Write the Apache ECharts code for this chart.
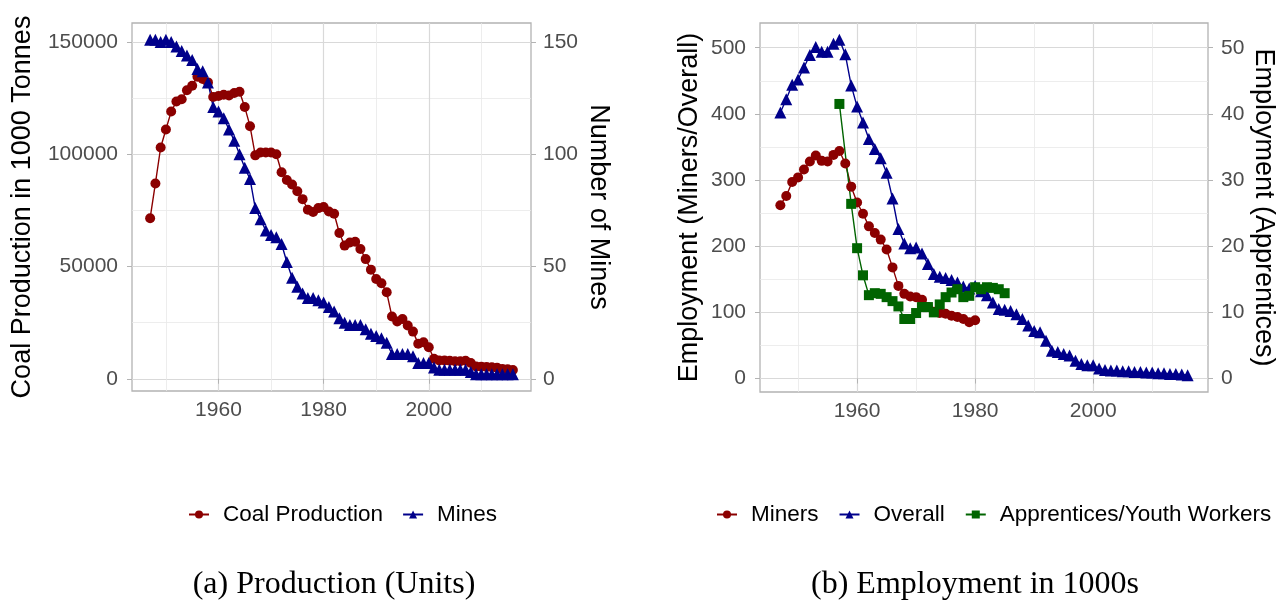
<!DOCTYPE html>
<html>
<head>
<meta charset="utf-8">
<script src="https://cdn.jsdelivr.net/npm/echarts@6/dist/echarts.min.js"></script>
<style>
  html, body { margin: 0; padding: 0; background: #ffffff; }
  #chart { width: 1283px; height: 602px; }
</style>
</head>
<body>
<div id="chart"></div>
<script>
function range(a, b) { const out = []; for (let y = a; y <= b; y++) out.push(y); return out; }

// ---- (a) Production ----
const productionYears = range(1947, 2016);
const coalProduction = [
  71500, 87000, 103000, 111000, 119000, 123500, 124500, 128500, 130500, 134500,
  133500, 132000, 125500, 125900, 126500, 126200, 127300, 127800, 121000, 112500,
  99500, 100800, 100800, 100800, 100000, 92000, 88500, 86500, 83500, 80000,
  75300, 74300, 76000, 76500, 74500, 73500, 64900, 59300, 60700, 61000,
  57800, 53300, 48600, 44400, 42500, 38500, 27700, 25500, 26600, 23700,
  21000, 15600, 16300, 14000, 8900, 8100, 8100, 8000, 7800, 7800,
  8000, 7000, 5500, 5400, 5200, 5100, 4900, 4400, 4200, 3900
];
const mines = [
  151, 151, 150, 151, 150, 148, 146, 144, 142, 138,
  137, 132, 121, 119, 116, 111, 106, 100, 94, 89,
  76, 71, 66, 64, 63, 60, 52, 45, 41, 38,
  36, 36, 35, 34, 32, 30, 27, 25, 24, 24,
  24, 22, 20, 19, 18, 16, 11, 11, 11, 11,
  10, 7, 7, 7, 5, 4, 4, 4, 4, 4,
  4, 3, 2, 2, 2, 2, 2, 2, 2, 2
];

// ---- (b) Employment in 1000s ----
const minersYears = range(1947, 1980);
const miners = [
  262, 276, 297, 304, 316, 328, 337, 329, 328, 338,
  344, 325, 290, 266, 249, 230, 220, 210, 195, 168,
  140, 128, 124, 123, 119, 108, 101, 99, 98, 95,
  93, 90, 85, 88
];
const overallYears = range(1947, 2016);
const overall = [
  402, 422, 444, 452, 470, 489, 501, 494, 494, 506,
  512, 490, 443, 411, 387, 362, 347, 333, 311, 272,
  226, 204, 197, 198, 189, 173, 158, 154, 152, 149,
  145, 139, 136, 140, 132, 126, 115, 105, 104, 102,
  97, 90, 80, 72, 70, 57, 42, 40, 37, 35,
  27, 22, 20, 20, 15, 13, 12, 12, 11, 11,
  10, 10, 9, 9, 8, 8, 7, 7, 6, 5
];
const apprenticeYears = [1957, 1959, 1960, 1961, 1962, 1963, 1964, 1965, 1966, 1967,
  1968, 1969, 1970, 1971, 1972, 1973, 1974, 1975, 1976, 1977,
  1978, 1979, 1980, 1981, 1982, 1983, 1984, 1985];
const apprentices = [41.5, 26.4, 19.7, 15.6, 12.6, 12.9, 12.8, 12.3, 11.7, 10.9,
  9.0, 9.0, 9.9, 10.8, 10.8, 10.0, 11.2, 12.3, 13.0, 13.5,
  12.3, 12.5, 13.8, 13.5, 13.8, 13.7, 13.5, 12.9];

// ---- tick positions ----
const yearMajorTicks = [1960, 1980, 2000];
const yearMinorTicks = [1950, 1970, 1990, 2010];
const productionMajorTicks = [0, 50000, 100000, 150000];
const productionMinorTicks = [25000, 75000, 125000];
const mineTicks = [0, 50, 100, 150];
const employmentMajorTicks = [0, 100, 200, 300, 400, 500];
const employmentMinorTicks = [50, 150, 250, 350, 450];
const apprenticeTicks = [0, 10, 20, 30, 40, 50];

const MINE_SCALE = 1000;      // secondary axis: mines = production / 1000
const APPRENTICE_SCALE = 10;  // secondary axis: apprentices = employment / 10

const SANS = 'Liberation Sans, Arial, sans-serif';
const SERIF = 'Liberation Serif, Times New Roman, serif';
const TICK_GREY = '#4d4d4d';
const BORDER_GREY = '#b3b3b3';
const GRID_MAJOR = '#d9d9d9';
const GRID_MINOR = '#e9e9e9';
const TICK_FONT = 21;

function pairs(xs, ys) { return xs.map((x, i) => [x, ys[i]]); }
function padded(values) {
  const lo = Math.min(...values), hi = Math.max(...values);
  const p = (hi - lo) * 0.05;
  return [lo - p, hi + p];
}
const plain = v => String(v);

const yearExt = padded(productionYears.concat(overallYears, minersYears, apprenticeYears));
const prodExt = padded(coalProduction.concat(mines.map(m => m * MINE_SCALE)));
const empExt = padded(miners.concat(overall, apprentices.map(a => a * APPRENTICE_SCALE)));

function majorX(gridIndex) {
  return {
    type: 'value', gridIndex, min: yearExt[0], max: yearExt[1], position: 'bottom',
    axisLine: { show: false },
    axisTick: { show: true, customValues: yearMajorTicks, length: 5, lineStyle: { color: BORDER_GREY, width: 1 } },
    axisLabel: { customValues: yearMajorTicks, formatter: plain, color: TICK_GREY, fontSize: TICK_FONT, fontFamily: SANS, margin: 9 },
    splitLine: { show: true, lineStyle: { color: GRID_MAJOR, width: 1.2 } }
  };
}
function minorX(gridIndex) {
  return {
    type: 'value', gridIndex, min: yearExt[0], max: yearExt[1], position: 'top',
    axisLine: { show: false },
    axisTick: { show: false, customValues: yearMinorTicks },
    axisLabel: { show: false, customValues: yearMinorTicks },
    splitLine: { show: true, lineStyle: { color: GRID_MINOR, width: 0.8 } }
  };
}
function valueY(gridIndex, ext, ticks, position, split, name, nameGap, nameRotate, margin) {
  return {
    type: 'value', gridIndex, min: ext[0], max: ext[1], position,
    name, nameLocation: 'middle', nameGap, nameRotate,
    nameTextStyle: { fontSize: 27, fontFamily: SANS, color: '#000' },
    axisLine: { show: false },
    axisTick: { show: true, customValues: ticks, length: 5, lineStyle: { color: BORDER_GREY, width: 1 } },
    axisLabel: { customValues: ticks, formatter: plain, color: TICK_GREY, fontSize: TICK_FONT, fontFamily: SANS, margin },
    splitLine: { show: split, lineStyle: { color: GRID_MAJOR, width: 1.2 } }
  };
}
function minorY(gridIndex, ext, ticks) {
  return {
    type: 'value', gridIndex, min: ext[0], max: ext[1], position: 'left',
    axisLine: { show: false },
    axisTick: { show: false, customValues: ticks },
    axisLabel: { show: false, customValues: ticks },
    splitLine: { show: true, lineStyle: { color: GRID_MINOR, width: 0.8 } }
  };
}

function lineSeries(name, xIdx, yIdx, data, color, symbol, size) {
  return {
    type: 'line', name, xAxisIndex: xIdx, yAxisIndex: yIdx, data,
    symbol, symbolSize: size, showSymbol: true,
    itemStyle: { color }, lineStyle: { color, width: 1.4 },
    emphasis: { disabled: true }, animation: false
  };
}

const RED = '#8b0000', BLUE = '#00008b', GREEN = '#006400';

const legendText = { fontSize: 22.5, fontFamily: SANS, color: '#000', padding: [0, 0, 0, 9] };
const captionText = { fontFamily: SERIF, fontSize: 32, fontWeight: 'normal', color: '#000' };

const option = {
  backgroundColor: '#ffffff',
  animation: false,
  grid: [
    { left: 132, top: 23, width: 399, height: 368, show: true, borderColor: BORDER_GREY, borderWidth: 1.3, backgroundColor: 'transparent' },
    { left: 760, top: 23, width: 448, height: 369, show: true, borderColor: BORDER_GREY, borderWidth: 1.3, backgroundColor: 'transparent' }
  ],
  xAxis: [majorX(0), minorX(0), majorX(1), minorX(1)],
  yAxis: [
    valueY(0, prodExt, productionMajorTicks, 'left', true, 'Coal Production in 1000 Tonnes', 96, 90, 14),
    valueY(0, [prodExt[0] / MINE_SCALE, prodExt[1] / MINE_SCALE], mineTicks, 'right', false, 'Number of Mines', 54, -90, 12),
    minorY(0, prodExt, productionMinorTicks),
    valueY(1, empExt, employmentMajorTicks, 'left', true, 'Employment (Miners/Overall)', 57, 90, 14),
    valueY(1, [empExt[0] / APPRENTICE_SCALE, empExt[1] / APPRENTICE_SCALE], apprenticeTicks, 'right', false, 'Employment (Apprentices)', 42, -90, 13),
    minorY(1, empExt, employmentMinorTicks)
  ],
  legend: [
    {
      data: ['Coal Production', 'Mines'], left: 183, top: 498, orient: 'horizontal',
      itemWidth: 20, itemHeight: 10, itemGap: 19, textStyle: legendText
    },
    {
      data: ['Miners', 'Overall', 'Apprentices/Youth Workers'], left: 711, top: 498, orient: 'horizontal',
      itemWidth: 20, itemHeight: 10, itemGap: 20, textStyle: legendText
    }
  ],
  title: [
    { text: '(a) Production (Units)', left: 329, top: 564, textAlign: 'center', textStyle: captionText },
    { text: '(b) Employment in 1000s', left: 970, top: 564, textAlign: 'center', textStyle: captionText }
  ],
  series: [
    lineSeries('Coal Production', 0, 0, pairs(productionYears, coalProduction), RED, 'circle', 10),
    lineSeries('Mines', 0, 1, pairs(productionYears, mines), BLUE, 'triangle', 12),
    lineSeries('Miners', 2, 3, pairs(minersYears, miners), RED, 'circle', 10),
    lineSeries('Overall', 2, 3, pairs(overallYears, overall), BLUE, 'triangle', 12),
    lineSeries('Apprentices/Youth Workers', 2, 4, pairs(apprenticeYears, apprentices), GREEN, 'rect', 10)
  ]
};

const chart = echarts.init(document.getElementById('chart'), null, { renderer: 'canvas' });
chart.setOption(option);
</script>
</body>
</html>
